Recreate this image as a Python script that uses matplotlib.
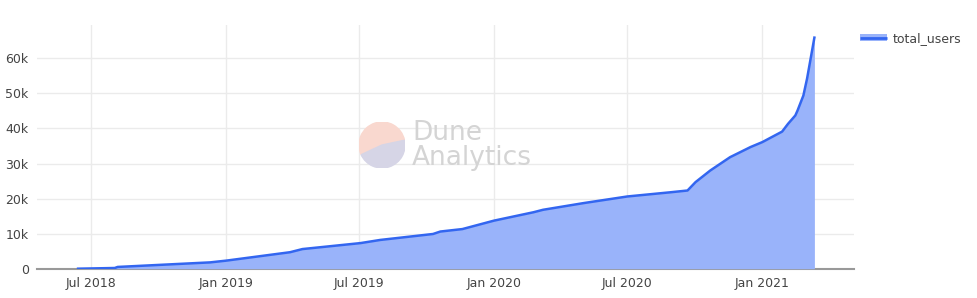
import numpy as np
import pandas as pd
import matplotlib
matplotlib.use("Agg")
import matplotlib.pyplot as plt
import matplotlib.dates as mdates
from matplotlib.patches import Patch, Wedge
from matplotlib.lines import Line2D
from matplotlib.ticker import FuncFormatter
from matplotlib.legend_handler import HandlerTuple

# cumulative users
dates = ["2018-06-13", "2018-08-02", "2018-08-06", "2018-12-10", "2019-01-01",
         "2019-03-29", "2019-04-15", "2019-07-03", "2019-07-30", "2019-10-10",
         "2019-10-20", "2019-11-19", "2020-01-01", "2020-02-24", "2020-03-08",
         "2020-05-02", "2020-07-01", "2020-08-29", "2020-09-21", "2020-10-02",
         "2020-10-22", "2020-11-18", "2020-12-16", "2021-01-01", "2021-01-28",
         "2021-02-05", "2021-02-15", "2021-02-18", "2021-02-26", "2021-03-03",
         "2021-03-13"]
total_users = [0, 200, 500, 1800, 2300,
               4700, 5600, 7300, 8200, 9900,
               10600, 11300, 13700, 16100, 16800,
               18700, 20600, 21800, 22300, 24700,
               28000, 31800, 34700, 36100, 39100,
               41300, 43700, 45100, 49400, 54200,
               65900]
series_name = "total_users"

x = pd.to_datetime(dates)
line_color = "#3366f0"
fill_color = "#99b3fa"
text_color = "#444444"

fig = plt.figure(figsize=(9.78, 2.98), dpi=100)
ax = fig.add_axes([37 / 978, 29.3 / 298, 817 / 978, 243.7 / 298])

ax.fill_between(x, total_users, 0, color=fill_color, linewidth=0, zorder=2)
ax.plot(x, total_users, color=line_color, linewidth=1.8, zorder=3)

ax.set_xlim(pd.Timestamp("2018-04-18"), pd.Timestamp("2021-05-06"))
ax.set_ylim(0, 69500)
ax.set_yticks(np.arange(0, 60001, 10000))
ax.yaxis.set_major_formatter(FuncFormatter(lambda v, p: "0" if v == 0 else "%dk" % (v / 1000)))
ax.xaxis.set_major_locator(mdates.MonthLocator(bymonth=[1, 7]))
ax.xaxis.set_major_formatter(mdates.DateFormatter("%b %Y"))

ax.grid(True, color="#ebebeb", linewidth=1, zorder=0)
ax.set_axisbelow(True)
for s in ["top", "right", "left"]:
    ax.spines[s].set_visible(False)
ax.spines["bottom"].set_color("#999999")
ax.spines["bottom"].set_linewidth(1.5)
ax.spines["bottom"].set_zorder(1)
ax.tick_params(length=0, labelsize=9, labelcolor=text_color, pad=6)

handle = (Patch(facecolor=fill_color, edgecolor="none"),
          Line2D([], [], color=line_color, linewidth=2, solid_capstyle="butt"))
fig.legend([handle], [series_name], loc="upper left", bbox_to_anchor=(860 / 978, 1 - 32 / 298),
           frameon=False, fontsize=9, labelcolor=text_color, handlelength=2.2,
           handleheight=0.45, handletextpad=0.45, borderpad=0, borderaxespad=0,
           handler_map={tuple: HandlerTuple(ndivide=1)})

# watermark
lax = fig.add_axes([359 / 978, 1 - 168 / 298, 46 / 978, 46 / 298])
lax.set_xlim(-1, 1)
lax.set_ylim(-1, 1)
lax.set_aspect("equal")
lax.axis("off")
lax.add_patch(Wedge((0, 0), 1, 12, 205, color="#f9d8cf"))
lax.add_patch(Wedge((0, 0), 1, 205, 372, color="#d6d5e6"))
fig.text(412 / 978, 1 - 133 / 298, "Dune", fontsize=19, color="#d4d4d4", va="center")
fig.text(412 / 978, 1 - 158 / 298, "Analytics", fontsize=19, color="#d4d4d4", va="center")

fig.savefig("out.png", dpi=100)
